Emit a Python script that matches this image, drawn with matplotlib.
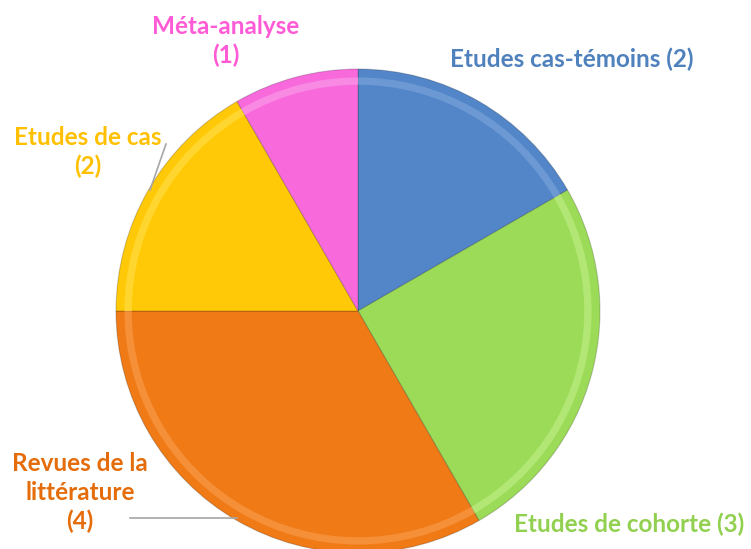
import matplotlib.pyplot as plt

categories = ["Etudes cas-témoins", "Etudes de cohorte", "Revues de la\nlittérature",
              "Etudes de cas", "Méta-analyse"]
counts = [2, 3, 4, 2, 1]
colors = ["#5286C8", "#9CDB58", "#F07A16", "#FFC908", "#F86ADC"]
text_colors = ["#4F81BD", "#92D050", "#E46C0A", "#FFC000", "#FF5BD6"]

# pixel helpers (center of pie ~ (358, 311), radius ~242 px)
CX, CY, R = 358, 311, 242
def px(x, y):
    return (x - CX) / R, (CY - y) / R

plt.rcParams['font.family'] = ['Lato', 'DejaVu Sans']
fig = plt.figure(figsize=(7.51, 5.49), dpi=100)
ax = fig.add_axes([0, 0, 1, 1])

wedges, _ = ax.pie(counts, colors=colors, startangle=90, counterclock=False, radius=1,
                   wedgeprops=dict(edgecolor="#00000030", linewidth=0.8))

# thin lighter band near the rim, a rough take on the bevel shading
light = ["#7FA7DB", "#C2F08A", "#F9A050", "#FFE04A", "#FBA0EA"]
ax.pie(counts, colors=light, startangle=90, counterclock=False, radius=0.965,
       wedgeprops=dict(width=0.03, edgecolor="none", alpha=0.6))

ax.set_xlim(px(0, 0)[0], px(751, 0)[0])
ax.set_ylim(px(0, 549)[1], px(0, 0)[1])
ax.set_aspect("equal")
ax.axis("off")

# labels
label_pos = [(572, 59), (629, 524), (80, 493), (88, 152), (226, 41)]
for name, n, tc, (lx, ly) in zip(categories, counts, text_colors, label_pos):
    if name in ("Etudes de cas", "Méta-analyse") or "\n" in name:
        txt = "{}\n({})".format(name, n)
    else:
        txt = "{} ({})".format(name, n)
    ax.text(*px(lx, ly), txt, color=tc, fontsize=17.5, fontweight="bold",
            ha="center", va="center", linespacing=1.3)

# leader lines
ax.plot(*zip(px(166, 144), px(150, 190)), color="#A6A6A6", lw=1.2)
ax.plot(*zip(px(130, 518), px(237, 518)), color="#A6A6A6", lw=1.2)

fig.savefig("out.png", dpi=100)
